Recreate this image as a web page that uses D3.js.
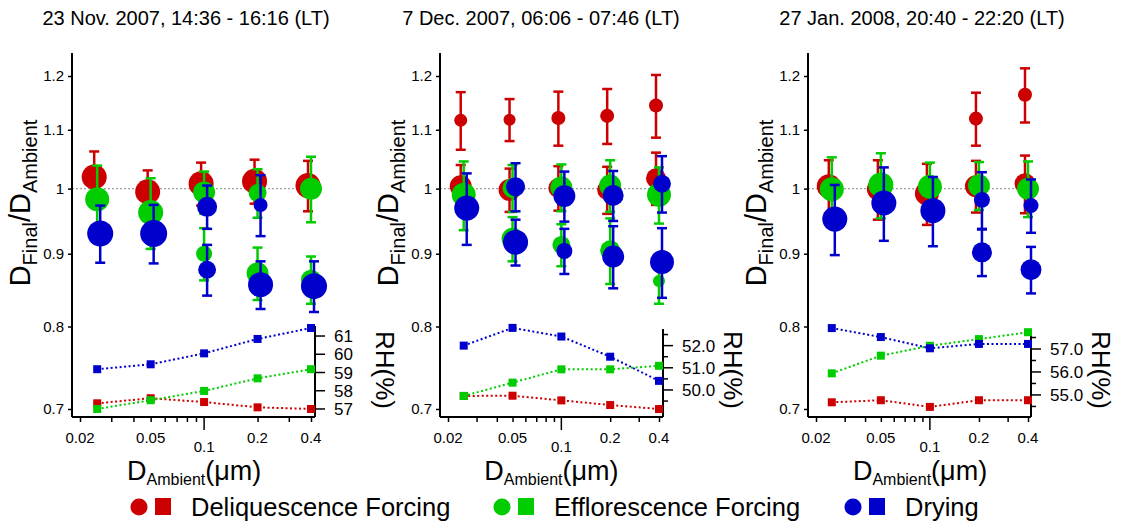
<!DOCTYPE html>
<html><head><meta charset="utf-8">
<script src="https://cdn.jsdelivr.net/npm/d3@7"></script>
<style>body{margin:0;background:#fff} text{font-family:"Liberation Sans",Arial,sans-serif;fill:#000}</style>
</head><body><svg id="c" width="1138" height="521"></svg>
<script>
// ---------- data ----------
const titles = ["23 Nov. 2007, 14:36 - 16:16 (LT)", "7 Dec. 2007, 06:06 - 07:46 (LT)", "27 Jan. 2008, 20:40 - 22:20 (LT)"];
const sizes = [0.025, 0.05, 0.1, 0.2, 0.4];
const seriesNames = ["Deliquescence Forcing", "Efflorescence Forcing", "Drying"];
const yTicks = [0.7, 0.8, 0.9, 1, 1.1, 1.2];
const xMinorTicks = [0.02, 0.03, 0.04, 0.05, 0.06, 0.07, 0.08, 0.09, 0.2, 0.3, 0.4];
const xLabelTicks = [0.02, 0.05, 0.2, 0.4];
const xMajorTick = 0.1;

// [D_Ambient, D_Final/D_Ambient, error, particle fraction]
const p1Deliq = [[0.025,1.019,0.043,0.86],[0.05,0.995,0.035,0.86],[0.1,1.008,0.035,0.86],[0.2,1.012,0.036,0.86],[0.4,1.005,0.041,0.86]];
const p1Efflo = [[0.025,0.983,0.055,0.79],[0.05,0.962,0.055,0.86],[0.1,0.994,0.034,0.66],[0.1,0.900,0.038,0.35],[0.2,0.993,0.039,0.44],[0.2,0.872,0.037,0.66],[0.4,1.000,0.053,0.66],[0.4,0.863,0.033,0.55]];
const p1Dry   = [[0.025,0.930,0.043,0.93],[0.05,0.930,0.044,1.0],[0.1,0.971,0.034,0.55],[0.1,0.877,0.036,0.44],[0.2,0.974,0.048,0.27],[0.2,0.856,0.033,0.86],[0.4,0.854,0.035,0.93]];

const p2Deliq = [[0.025,1.117,0.052,0.23],[0.025,1.004,0.035,0.66],[0.05,1.118,0.038,0.2],[0.05,0.998,0.035,0.66],[0.1,1.121,0.049,0.27],[0.1,1.001,0.036,0.55],[0.2,1.125,0.05,0.27],[0.2,0.998,0.038,0.55],[0.4,1.144,0.058,0.27],[0.4,1.017,0.043,0.55]];
const p2Efflo = [[0.025,0.990,0.055,0.79],[0.05,1.001,0.038,0.55],[0.05,0.922,0.033,0.66],[0.1,1.002,0.038,0.66],[0.1,0.913,0.031,0.44],[0.2,1.005,0.042,0.66],[0.2,0.905,0.048,0.55],[0.4,0.990,0.045,0.79],[0.4,0.861,0.031,0.2]];
const p2Dry   = [[0.025,0.969,0.056,0.86],[0.05,1.003,0.039,0.5],[0.05,0.917,0.034,0.86],[0.1,0.988,0.04,0.66],[0.1,0.904,0.033,0.35],[0.2,0.989,0.04,0.6],[0.2,0.896,0.045,0.66],[0.4,1.008,0.046,0.44],[0.4,0.888,0.05,0.79]];

const p3Deliq = [[0.025,1.004,0.043,0.79],[0.05,0.999,0.048,0.66],[0.1,0.992,0.049,0.79],[0.2,1.120,0.048,0.27],[0.2,1.004,0.042,0.66],[0.4,1.164,0.051,0.27],[0.4,1.008,0.047,0.6]];
const p3Efflo = [[0.025,0.999,0.053,0.79],[0.05,1.006,0.053,0.86],[0.1,1.003,0.04,0.79],[0.2,1.005,0.039,0.66],[0.4,1.000,0.045,0.66]];
const p3Dry   = [[0.025,0.952,0.054,0.86],[0.05,0.977,0.058,0.86],[0.1,0.965,0.054,0.86],[0.2,0.982,0.045,0.35],[0.2,0.902,0.034,0.55],[0.4,0.973,0.042,0.31],[0.4,0.877,0.033,0.6]];

// RH (%) at each size
const p1RhDeliq = [57.31,57.59,57.38,57.09,57.0];
const p1RhEfflo = [57.0,57.48,57.99,58.68,59.18];
const p1RhDry   = [59.18,59.45,60.05,60.84,61.44];
const p2RhDeliq = [49.73,49.74,49.53,49.32,49.14];
const p2RhEfflo = [49.73,50.33,50.93,50.93,51.09];
const p2RhDry   = [52.0,52.8,52.41,51.5,50.41];
const p3RhDeliq = [54.68,54.77,54.48,54.77,54.77];
const p3RhEfflo = [55.94,56.71,57.14,57.43,57.73];
const p3RhDry   = [57.91,57.52,57.03,57.22,57.22];

const p1RhTicks = [57,58,59,60,61];
const p2RhTicks = [50,51,52];
const p3RhTicks = [55,56,57];
const p2RhMinor = [49.5,50.5,51.5,52.5];
const p3RhMinor = [54.5,55.5,56.5,57.5];

// ---------- layout / style ----------
const colors = ["#cc0000", "#00cc00", "#0000cc"];
const dodge = [-3, 0, 3];
const yBottom = 417, yTop = 53;
const panels = [
  {title: titles[0], tx: 186, L: 72, R: 315, xr: [80, 311], data: [p1Deliq, p1Efflo, p1Dry], rh: [p1RhDeliq, p1RhEfflo, p1RhDry],
   rhDomain: [56.56, 61.55], rhTop: 326, rhTicks: p1RhTicks, rhMinor: [], rhFmt: d3.format("d")},
  {title: titles[1], tx: 541, L: 440, R: 663, xr: [448, 659], data: [p2Deliq, p2Efflo, p2Dry], rh: [p2RhDeliq, p2RhEfflo, p2RhDry],
   rhDomain: [48.78, 52.75], rhTop: 329, rhTicks: p2RhTicks, rhMinor: p2RhMinor, rhFmt: d3.format(".1f")},
  {title: titles[2], tx: 922, L: 808, R: 1031, xr: [816, 1028], data: [p3Deliq, p3Efflo, p3Dry], rh: [p3RhDeliq, p3RhEfflo, p3RhDry],
   rhDomain: [54.04, 57.87], rhTop: 329, rhTicks: p3RhTicks, rhMinor: p3RhMinor, rhFmt: d3.format(".1f")}
];

const svg = d3.select("#c");
const y = d3.scaleLog().domain([0.7, 1.2]).range([409, 76]);
const rScale = d3.scaleSqrt().domain([0, 1]).range([0, 13.5]);

panels.forEach(p => {
  const g = svg.append("g");
  const x = d3.scaleLog().domain([0.02, 0.4]).range(p.xr);
  const rh = d3.scaleLinear().domain(p.rhDomain).range([yBottom, p.rhTop]);

  // title
  g.append("text").attr("x", p.tx).attr("y", 25).attr("text-anchor", "middle").style("font-size", "20px").text(p.title);

  // reference line at 1
  g.append("line").attr("x1", p.L).attr("x2", p.R).attr("y1", y(1)).attr("y2", y(1))
    .attr("stroke", "#a0a0a0").attr("stroke-width", 1.3).attr("stroke-dasharray", "2,2");

  // left axis
  const ya = g.append("g").attr("transform", `translate(${p.L},0)`)
    .call(d3.axisLeft(y).tickValues(yTicks).tickFormat(d3.format("")).tickSize(4).tickPadding(4));
  ya.select(".domain").remove();
  ya.selectAll(".tick line").attr("stroke", "#000").attr("stroke-width", 1.5);
  ya.selectAll(".tick text").style("font-size", "15px").style("font-family", "Liberation Sans, Arial, sans-serif").attr("fill", "#222");
  g.append("line").attr("x1", p.L).attr("x2", p.L).attr("y1", yTop).attr("y2", yBottom).attr("stroke", "#000").attr("stroke-width", 2);

  // bottom axis
  const xa = g.append("g").attr("transform", `translate(0,${yBottom})`)
    .call(d3.axisBottom(x).tickValues(xMinorTicks).tickFormat("").tickSize(5));
  xa.select(".domain").remove();
  xa.selectAll(".tick line").attr("stroke", "#000").attr("stroke-width", 1.5);
  g.append("line").attr("x1", x(xMajorTick)).attr("x2", x(xMajorTick)).attr("y1", yBottom).attr("y2", yBottom + 13)
    .attr("stroke", "#000").attr("stroke-width", 1.5);
  g.append("line").attr("x1", p.L).attr("x2", p.R).attr("y1", yBottom).attr("y2", yBottom).attr("stroke", "#000").attr("stroke-width", 2);
  g.selectAll(".xl").data(xLabelTicks).join("text").attr("class", "xl")
    .attr("x", d => x(d)).attr("y", 443).attr("text-anchor", "middle").style("font-size", "15px").attr("fill", "#222").text(d => d);
  g.append("text").attr("x", x(xMajorTick)).attr("y", 452).attr("text-anchor", "middle").style("font-size", "15px").attr("fill", "#222").text(xMajorTick);

  // right RH axis
  g.append("line").attr("x1", p.R).attr("x2", p.R).attr("y1", p.rhTop).attr("y2", yBottom).attr("stroke", "#000").attr("stroke-width", 2);
  g.selectAll(".rt").data(p.rhTicks).join("line").attr("class", "rt")
    .attr("x1", p.R).attr("x2", p.R + 10).attr("y1", d => rh(d)).attr("y2", d => rh(d)).attr("stroke", "#000").attr("stroke-width", 1.5);
  g.selectAll(".rm").data(p.rhMinor).join("line").attr("class", "rm")
    .attr("x1", p.R).attr("x2", p.R + 5).attr("y1", d => rh(d)).attr("y2", d => rh(d)).attr("stroke", "#000").attr("stroke-width", 1.5);
  g.selectAll(".rl").data(p.rhTicks).join("text").attr("class", "rl")
    .attr("x", p.R + 19).attr("y", d => rh(d)).attr("dy", "0.36em").style("font-size", "17px").text(d => p.rhFmt(d));

  // RH lines + squares
  const line = d3.line().x((d, i) => x(sizes[i])).y(d => rh(d));
  p.rh.forEach((arr, si) => {
    g.append("path").attr("d", line(arr)).attr("fill", "none").attr("stroke", colors[si])
      .attr("stroke-width", 2).attr("stroke-dasharray", "2,2.5");
  });
  p.rh.forEach((arr, si) => {
    g.selectAll(null).data(arr).join("rect")
      .attr("x", (d, i) => x(sizes[i]) - 4).attr("y", d => rh(d) - 4).attr("width", 8).attr("height", 8).attr("fill", colors[si]);
  });

  // error bars and circles
  p.data.forEach((arr, si) => {
    const c = colors[si], dx = dodge[si];
    const eb = g.append("g");
    arr.forEach(d => {
      const cx = x(d[0]) + dx, y1 = y(d[1] + d[2]), y2 = y(d[1] - d[2]);
      eb.append("line").attr("x1", cx).attr("x2", cx).attr("y1", y1).attr("y2", y2).attr("stroke", c).attr("stroke-width", 2.5);
      eb.append("line").attr("x1", cx - 5).attr("x2", cx + 5).attr("y1", y1).attr("y2", y1).attr("stroke", c).attr("stroke-width", 2.5);
      eb.append("line").attr("x1", cx - 5).attr("x2", cx + 5).attr("y1", y2).attr("y2", y2).attr("stroke", c).attr("stroke-width", 2.5);
    });
    g.selectAll(null).data(arr).join("circle")
      .attr("cx", d => x(d[0]) + dx).attr("cy", d => y(d[1])).attr("r", d => rScale(d[3])).attr("fill", c);
  });

  // y title
  const yt = g.append("text").attr("transform", `translate(${p.L - 42},${203}) rotate(-90)`).attr("text-anchor", "middle").style("font-size", "29px");
  yt.append("tspan").text("D");
  yt.append("tspan").attr("dy", 7).style("font-size", "20px").text("Final");
  yt.append("tspan").attr("dy", -7).text("/D");
  yt.append("tspan").attr("dy", 7).style("font-size", "20px").text("Ambient");

  // RH title
  g.append("text").attr("transform", `translate(${p.R + 61},${370}) rotate(90)`).attr("text-anchor", "middle").style("font-size", "26px").text("RH(%)");

  // x title
  const xt = g.append("text").attr("x", x(xMajorTick) - 77).attr("y", 480).style("font-size", "27px");
  xt.append("tspan").text("D");
  xt.append("tspan").attr("dy", 5).style("font-size", "16px").text("Ambient");
  xt.append("tspan").attr("dy", -5).text("(μm)");
});

// legend
const legX = [139, 502, 853];
const lg = svg.append("g");
seriesNames.forEach((n, i) => {
  lg.append("circle").attr("cx", legX[i]).attr("cy", 507).attr("r", 8.5).attr("fill", colors[i]);
  lg.append("rect").attr("x", legX[i] + 16).attr("y", 498).attr("width", 16).attr("height", 17).attr("fill", colors[i]);
  lg.append("text").attr("x", legX[i] + 52).attr("y", 516).style("font-size", "25.5px").text(n);
});
</script>
</body></html>
